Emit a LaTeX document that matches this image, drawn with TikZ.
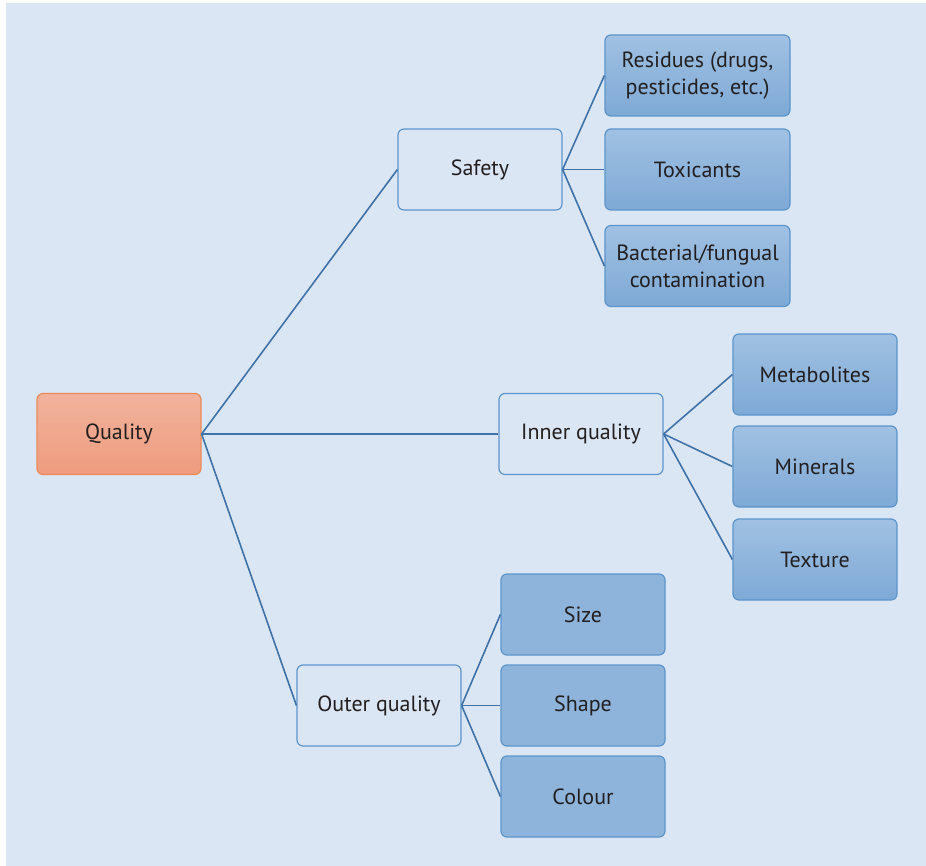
\documentclass[tikz,border=0pt]{standalone}
\usepackage{fontspec}
\setmainfont{PT Sans}
\usetikzlibrary{positioning}
\definecolor{paneblue}{HTML}{DAE6F3}
\definecolor{edgeblue}{HTML}{5B95CC}
\definecolor{wireblue}{HTML}{3F73A8}
\definecolor{boxtop}{HTML}{A0C1E2}
\definecolor{boxbottom}{HTML}{7EA9D6}
\definecolor{boxflat}{HTML}{8FB4DC}
\definecolor{rootedge}{HTML}{EC8B5A}
\definecolor{roottop}{HTML}{F1B29C}
\definecolor{rootbottom}{HTML}{EE9C7E}
\definecolor{inkdark}{HTML}{231F20}

\begin{document}
\begin{tikzpicture}[x=0.5pt, y=-0.5pt, font=\fontsize{11}{13.5}\selectfont, text=inkdark,
    card/.style={draw=edgeblue, line width=0.6pt, rounded corners=3pt,
      minimum width=82pt, minimum height=40.5pt, align=center, inner sep=2pt},
    rootcard/.style={card, draw=rootedge, top color=roottop, bottom color=rootbottom},
    opencard/.style={card, fill=paneblue},
    leafcard/.style={card, top color=boxtop, bottom color=boxbottom},
    flatcard/.style={card, fill=boxflat},
    widecard/.style={leafcard, minimum width=92.5pt},
    wire/.style={draw=wireblue, line width=0.8pt}]
  \useasboundingbox (0,0) rectangle (926,866);
  \fill[white] (0,0) rectangle (926,866);
  \fill[paneblue] (6,3) rectangle (926,866);

  \node[rootcard] (quality) at (119,434) {Quality};

  \node[opencard] (safety) at (480,169.5) {Safety};
  \node[opencard] (inner) at (581,434) {Inner quality};
  \node[opencard] (outer) at (379,705.5) {Outer quality};

  \node[widecard] (residues) at (697.5,75.5) {Residues (drugs,\\pesticides, etc.)};
  \node[widecard] (toxicants) at (697.5,169.5) {Toxicants};
  \node[widecard] (bacteria) at (697.5,266) {Bacterial/fungual\\contamination};

  \node[leafcard] (metabolites) at (815,374.5) {Metabolites};
  \node[leafcard] (minerals) at (815,466.5) {Minerals};
  \node[leafcard] (texture) at (815,559.5) {Texture};

  \node[flatcard] (size) at (583,614.5) {Size};
  \node[flatcard] (shape) at (583,705.5) {Shape};
  \node[flatcard] (colour) at (583,796.5) {Colour};

  % branches
  \foreach \kid in {safety, inner, outer}
    \draw[wire] (quality.east) -- (\kid.west);
  \foreach \kid in {residues, toxicants, bacteria}
    \draw[wire] (safety.east) -- (\kid.west);
  \foreach \kid in {metabolites, minerals, texture}
    \draw[wire] (inner.east) -- (\kid.west);
  \foreach \kid in {size, shape, colour}
    \draw[wire] (outer.east) -- (\kid.west);
\end{tikzpicture}
\end{document}
